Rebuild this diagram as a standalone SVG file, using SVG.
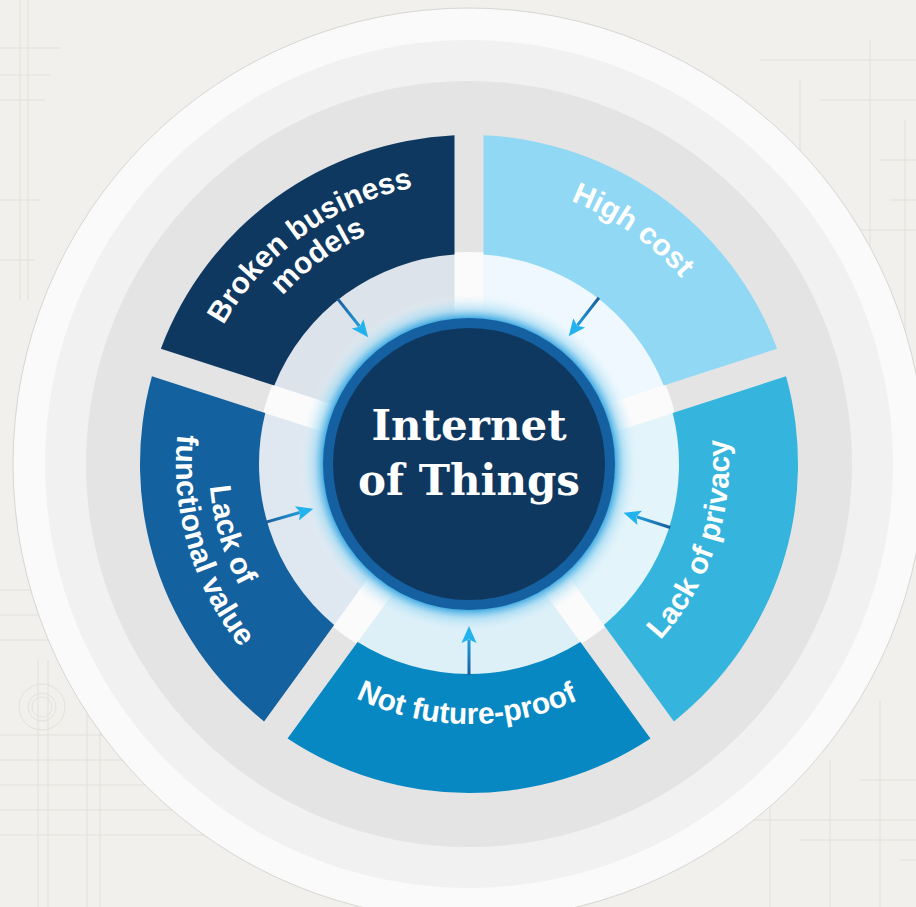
<svg xmlns="http://www.w3.org/2000/svg" width="916" height="907" viewBox="0 0 916 907">
<defs>
<style>
.lbl{font-family:"Liberation Sans",Arial,sans-serif;font-weight:bold;font-size:30px;fill:#ffffff;text-anchor:middle}
.title{font-family:"DejaVu Serif","Liberation Serif",serif;font-weight:bold;font-size:42px;fill:#ffffff;text-anchor:middle}
.bp{stroke:#e2e1dc;stroke-width:1;fill:none}
</style>
<path id="seg" d="M274.43 -181.46 A329 329 0 0 1 274.43 181.46 L178.01 111.41 A210 210 0 0 0 178.01 -111.41 Z"/>
<path id="pale" d="M24.67 0 L179.63 -112.59 A212 212 0 0 1 179.63 112.59 Z"/>
<path id="cw282" d="M48.97 -277.72 A282 282 0 0 1 48.97 277.72"/>
<path id="cw251" d="M43.59 -247.19 A251 251 0 0 1 43.59 247.19"/>
<path id="ccw260" d="M45.15 256.05 A260 260 0 0 0 45.15 -256.05"/>
<path id="ccw293" d="M50.88 288.55 A293 293 0 0 0 50.88 -288.55"/>
<linearGradient id="arrowGrad" gradientUnits="userSpaceOnUse" x1="211" y1="0" x2="165" y2="0">
<stop offset="0" stop-color="#1a5c9a"/><stop offset="1" stop-color="#22b2ee"/>
</linearGradient>
<g id="arrow">
<rect x="176" y="-1.5" width="35" height="3" fill="url(#arrowGrad)"/>
<path d="M162 0 L179 -7.5 L175.5 0 L179 7.5 Z" fill="#22b2ee"/>
</g>
<radialGradient id="glow" cx="0.5" cy="0.5" r="0.5">
<stop offset="0.86" stop-color="#4aaee3" stop-opacity="1"/>
<stop offset="0.91" stop-color="#a4daf3" stop-opacity="0.7"/>
<stop offset="1" stop-color="#e6f5fc" stop-opacity="0"/>
</radialGradient>
</defs>

<g id="background">
<rect width="916" height="907" fill="#f1f0ec"/>
<path class="bp" d="M0 48 H60 M0 75 H50 M0 100 H45 M20 0 V300 M28 0 V300 M0 200 H40 M0 260 H35"/>
<path class="bp" d="M0 590 H120 M0 615 H140 M0 640 H130 M0 735 H160 M0 760 H190 M0 785 H210 M0 810 H220 M0 835 H250 M38 660 V907 M48 660 V907 M87 700 V907 M100 700 V907"/>
<circle class="bp" cx="42" cy="707" r="23"/>
<circle class="bp" cx="42" cy="707" r="14"/>
<circle class="bp" cx="42" cy="707" r="10"/>
<path class="bp" d="M760 60 H916 M800 80 V300 M820 100 H916 M870 40 V330 M880 160 H916 M890 200 H916 M850 230 H916 M905 120 V400"/>
<path class="bp" d="M740 820 H916 M770 800 V907 M800 840 H916 M830 760 V907 M860 780 H916 M880 700 V907 M900 860 H916"/>
</g>

<g id="rings">
<circle cx="469" cy="464" r="456" fill="#fafafa" stroke="#d6d6d4" stroke-width="1"/>
<circle cx="469" cy="464" r="424" fill="#f1f1f1"/>
<circle cx="469" cy="464" r="383" fill="#e4e4e4"/>
<circle cx="469" cy="464" r="212" fill="#fbfbfb"/>
</g>

<g id="node-broken-business-models" transform="translate(469 464) rotate(-126)">
<use href="#pale" fill="#dde3ea"/>
<use href="#seg" fill="#0e3860"/>
<text class="lbl"><textPath href="#cw282" startOffset="50%">Broken business</textPath></text>
<text class="lbl"><textPath href="#cw251" startOffset="50%">models</textPath></text>
</g>

<g id="node-high-cost" transform="translate(469 464) rotate(-54)">
<use href="#pale" fill="#eef8fe"/>
<use href="#seg" fill="#90d8f4"/>
<g transform="rotate(-1)">
<text class="lbl"><textPath href="#cw282" startOffset="50%">High cost</textPath></text>
</g>
</g>

<g id="node-lack-of-privacy" transform="translate(469 464) rotate(18)">
<use href="#pale" fill="#e3f4fa"/>
<use href="#seg" fill="#35b5dd"/>
<g transform="rotate(0.6)">
<text class="lbl"><textPath href="#ccw260" startOffset="50%">Lack of privacy</textPath></text>
</g>
</g>

<g id="node-not-future-proof" transform="translate(469 464) rotate(90)">
<use href="#pale" fill="#ddf0f8"/>
<use href="#seg" fill="#0788c3"/>
<g transform="rotate(0.5)">
<text class="lbl"><textPath href="#ccw260" startOffset="50%">Not future-proof</textPath></text>
</g>
</g>

<g id="node-lack-of-functional-value" transform="translate(469 464) rotate(162)">
<use href="#pale" fill="#dfe8f1"/>
<use href="#seg" fill="#1461a0"/>
<g transform="rotate(1.5)">
<text class="lbl"><textPath href="#ccw260" startOffset="50%">Lack of</textPath></text>
<text class="lbl"><textPath href="#ccw293" startOffset="50%">functional value</textPath></text>
</g>
</g>

<g id="node-internet-of-things">
<circle cx="469" cy="464" r="170" fill="url(#glow)"/>
<circle cx="469" cy="464" r="146" fill="#1560a0"/>
<circle cx="469" cy="464" r="136" fill="#0e3860"/>
<text class="title" x="469" y="440">Internet</text>
<text class="title" x="469" y="495">of Things</text>
</g>

<g id="connectors">
<use href="#arrow" transform="translate(469 464) rotate(-128.5)"/>
<use href="#arrow" transform="translate(469 464) rotate(-52)"/>
<use href="#arrow" transform="translate(469 464) rotate(17.5)"/>
<use href="#arrow" transform="translate(469 464) rotate(90)"/>
<use href="#arrow" transform="translate(469 464) rotate(164)"/>
</g>
</svg>
